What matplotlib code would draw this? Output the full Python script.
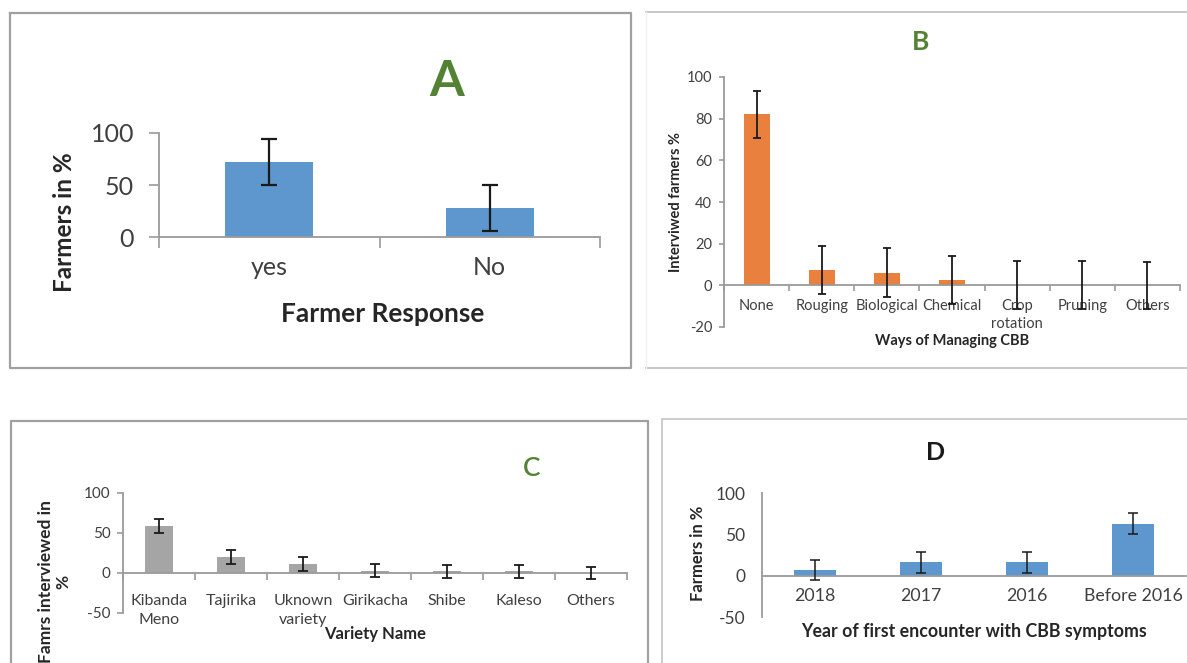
import matplotlib
matplotlib.use('Agg')
import matplotlib.pyplot as plt
import numpy as np
from matplotlib.lines import Line2D

plt.rcParams['font.family'] = ['Lato', 'DejaVu Sans']

# ---------------- data ----------------
a_categories = ['yes', 'No']
a_values = [72, 28]
a_errors = [22, 22]

b_categories = ['None', 'Rouging', 'Biological', 'Chemical', 'Crop\nrotation', 'Pruning', 'Others']
b_values = [82, 7.5, 6, 2.5, 0, 0, 0]
b_errors = [11.5, 11.5, 11.8, 11.5, 11.5, 11.5, 11.3]

c_categories = ['Kibanda\nMeno', 'Tajirika', 'Uknown\nvariety', 'Girikacha', 'Shibe', 'Kaleso', 'Others']
c_values = [59, 20, 11, 3, 2, 2, 0]
c_errors = [8.5, 8.5, 8.5, 8.5, 8, 8, 8]

d_categories = ['2018', '2017', '2016', 'Before 2016']
d_values = [7, 16, 16, 63]
d_errors = [12.5, 12.5, 12.5, 12.5]

# ---------------- figure ----------------
W, H = 1187, 663
fig = plt.figure(figsize=(W / 100, H / 100), dpi=100)

AXC = '#9A9A9A'
TXT = '#404040'
LAB = '#262626'
GREEN = '#548235'


def ax_at(x0, x1, y0, y1):
    return fig.add_axes([x0 / W, 1 - y1 / H, (x1 - x0) / W, (y1 - y0) / H])


def fline(xs, ys, color, lw):
    fig.add_artist(Line2D([x / W for x in xs], [1 - y / H for y in ys],
                          color=color, lw=lw, transform=fig.transFigure))


def ftext(x, y, s, **kw):
    fig.text(x / W, 1 - y / H, s, **kw)


def setup(ax, cats, vals, errs, color, ylim, yticks, fs, ypad, xpad,
          ytl, xtl, capsize, elw, zero_spine=True, show_ticks=True, ls=1.0, xfs=None):
    n = len(cats)
    x = np.arange(n)
    ax.bar(x, vals, width=0.4, color=color, zorder=2)
    ax.errorbar(x, vals, yerr=errs, fmt='none', ecolor='#1a1a1a',
                elinewidth=elw, capsize=capsize, capthick=elw, zorder=3)
    ax.set_xlim(-0.5, n - 0.5)
    ax.set_ylim(*ylim)
    for s in ['top', 'right']:
        ax.spines[s].set_visible(False)
    for s in ['left', 'bottom']:
        ax.spines[s].set_color(AXC)
        ax.spines[s].set_linewidth(1.3)
    if zero_spine:
        ax.spines['bottom'].set_position(('data', 0))
    ax.set_yticks(yticks)
    ax.set_yticklabels([str(t) for t in yticks])
    ax.set_xticks(np.arange(n + 1) - 0.5)
    ax.set_xticklabels([''] * (n + 1))
    ax.set_xticks(x, minor=True)
    ax.set_xticklabels(cats, minor=True)
    ax.tick_params(axis='y', direction='out', length=ytl if show_ticks else 0,
                   width=1.2, color=AXC, labelsize=fs, labelcolor=TXT, pad=ypad)
    ax.tick_params(axis='x', which='major', direction='out',
                   length=xtl if show_ticks else 0, width=1.2, color=AXC)
    ax.tick_params(axis='x', which='minor', length=0, labelsize=xfs or fs,
                   labelcolor=TXT, pad=xpad)
    for lbl in ax.get_xticklabels(minor=True):
        lbl.set_linespacing(ls)
    ax.patch.set_alpha(0)


# ---------------- borders ----------------
fline([10, 631, 631, 10, 10], [13, 13, 368, 368, 13], '#A0A0A0', 1.6)
fline([646, 1187], [12, 12], '#C4C4C4', 1.3)
fline([646, 1187], [368, 368], '#C4C4C4', 1.3)
fline([646, 646], [12, 368], '#F0F0F0', 1.0)
fline([11, 11, 648, 648], [663, 421, 421, 663], '#A0A0A0', 1.6)
fline([662, 662, 1187], [663, 419, 419], '#C8C8C8', 1.3)

# ---------------- panel A ----------------
axA = ax_at(159, 600, 133, 237)
setup(axA, a_categories, a_values, a_errors, '#5E97CD', (0, 100), [0, 50, 100],
      fs=18, xfs=18, ypad=11, xpad=14, ytl=7, xtl=8, capsize=6, elw=1.6, zero_spine=False)
ftext(447, 82, 'A', fontsize=36, fontweight='bold', color=GREEN, ha='center', va='center')
ftext(383, 314, 'Farmer Response', fontsize=19, fontweight='bold', color=LAB,
      ha='center', va='center')
ftext(64, 222, 'Farmers in %', fontsize=17.5, fontweight='bold', color=LAB,
      ha='center', va='center', rotation=90)

# ---------------- panel B ----------------
axB = ax_at(724, 1180, 77, 327)
setup(axB, b_categories, b_values, b_errors, '#E9803E', (-20, 100),
      [-20, 0, 20, 40, 60, 80, 100], fs=10.5, xfs=10.5, ypad=5, xpad=10, ytl=3.5, xtl=4,
      capsize=3, elw=1.3, ls=1.35)
ftext(921, 42, 'B', fontsize=19, fontweight='bold', color=GREEN, ha='center', va='center')
ftext(952, 341, 'Ways of Managing CBB', fontsize=10.5, fontweight='bold', color=LAB,
      ha='center', va='center')
ftext(676, 202, 'Interviwed farmers %', fontsize=10.5, fontweight='bold', color=LAB,
      ha='center', va='center', rotation=90)

# ---------------- panel C ----------------
axC = ax_at(123, 627, 493, 613)
setup(axC, c_categories, c_values, c_errors, '#A5A5A5', (-50, 100), [-50, 0, 50, 100],
      fs=11, xfs=11.5, ypad=5, xpad=15, ytl=4, xtl=5, capsize=3.5, elw=1.3, ls=1.45)
ftext(532, 469, 'C', fontsize=19, fontweight='semibold', color=GREEN, ha='center', va='center')
ftext(375, 634, 'Variety Name', fontsize=12, fontweight='bold', color=LAB,
      ha='center', va='center')
ftext(55, 582, 'Famrs interviewed in\n%', fontsize=12.5, fontweight='bold', color=LAB,
      ha='center', va='center', rotation=90, multialignment='center', linespacing=1.1)

# ---------------- panel D ----------------
axD = ax_at(762, 1186, 493, 617)
setup(axD, d_categories, d_values, d_errors, '#5E97CD', (-50, 100), [-50, 0, 50, 100],
      fs=12.5, xfs=12.8, ypad=12, xpad=9, ytl=0, xtl=0, capsize=3.5, elw=1.1, show_ticks=False)
ftext(936, 452, 'D', fontsize=18, fontweight='bold', color='#1a1a1a', ha='center', va='center')
ftext(974, 632, 'Year of first encounter with CBB symptoms', fontsize=12.8, fontweight='bold',
      color=LAB, ha='center', va='center')
ftext(698, 553, 'Farmers in %', fontsize=12, fontweight='bold', color=LAB,
      ha='center', va='center', rotation=90)

fig.savefig('out.png', dpi=100, facecolor='white')
